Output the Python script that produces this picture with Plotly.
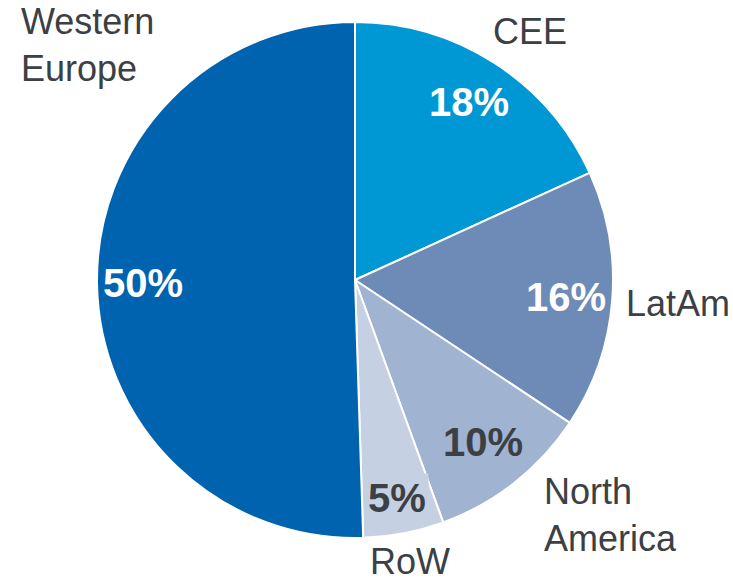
import math
import plotly.graph_objects as go

# Regional split, clockwise from 12 o'clock
regions = ["CEE", "LatAm", "North America", "RoW", "Western Europe"]
shares = [18, 16, 10, 5, 50]
slice_colors = ["#0098D4", "#6E8BB8", "#A0B3D0", "#C5D0E3", "#0063AF"]
pct_colors = ["white", "white", "#3B4045", "#3B4045", "white"]

W, H = 733, 583
CX, CY, R = 355, 280, 258  # pie centre / radius in pixels (from top-left)

fig = go.Figure(go.Pie(
    labels=regions,
    values=shares,
    marker=dict(colors=slice_colors, line=dict(color="white", width=2)),
    sort=False,
    direction="clockwise",
    rotation=0,
    textinfo="none",
    hoverinfo="label+percent",
    domain=dict(x=[(CX - R) / W, (CX + R) / W],
                y=[(H - CY - R) / H, (H - CY + R) / H]),
    showlegend=False,
))

annotations = []

# Percentage labels placed along each slice's mid-angle
total = sum(shares)
radial = [0.82, 0.82, 0.80, 0.86, 0.82]
cum = 0
for share, col, rf, name in zip(shares, pct_colors, radial, regions):
    mid = (cum + share / 2) / total * 2 * math.pi
    cum += share
    px = CX + R * rf * math.sin(mid)
    py = CY - R * rf * math.cos(mid)
    ann = dict(
        x=px / W, y=1 - py / H, xref="paper", yref="paper",
        text=f"<b>{share}%</b>", showarrow=False,
        font=dict(family="Liberation Sans, Arial, sans-serif", size=40, color=col),
        xanchor="center", yanchor="middle",
    )
    if name == "RoW":
        ann.update(bgcolor="#C5D0E3", borderpad=2)
    annotations.append(ann)

# Category names outside the pie
label_font = dict(family="Liberation Sans, Arial, sans-serif", size=36, color="#3B4045")
outside = [
    ("CEE", 530, 32, "center"),
    ("LatAm", 678, 303, "center"),
    ("North<br>America", 543, 515, "left"),
    ("RoW", 410, 561, "center"),
    ("Western<br>Europe", 20, 45, "left"),
]
for text, lx, ly, anchor in outside:
    annotations.append(dict(
        x=lx / W, y=1 - ly / H, xref="paper", yref="paper",
        text=text, showarrow=False, font=label_font,
        xanchor=anchor, yanchor="middle", align="left",
        borderpad=0,
    ))

fig.update_layout(
    width=W, height=H,
    margin=dict(l=0, r=0, t=0, b=0),
    paper_bgcolor="white",
    plot_bgcolor="white",
    annotations=annotations,
)

fig.write_html("out.html")
